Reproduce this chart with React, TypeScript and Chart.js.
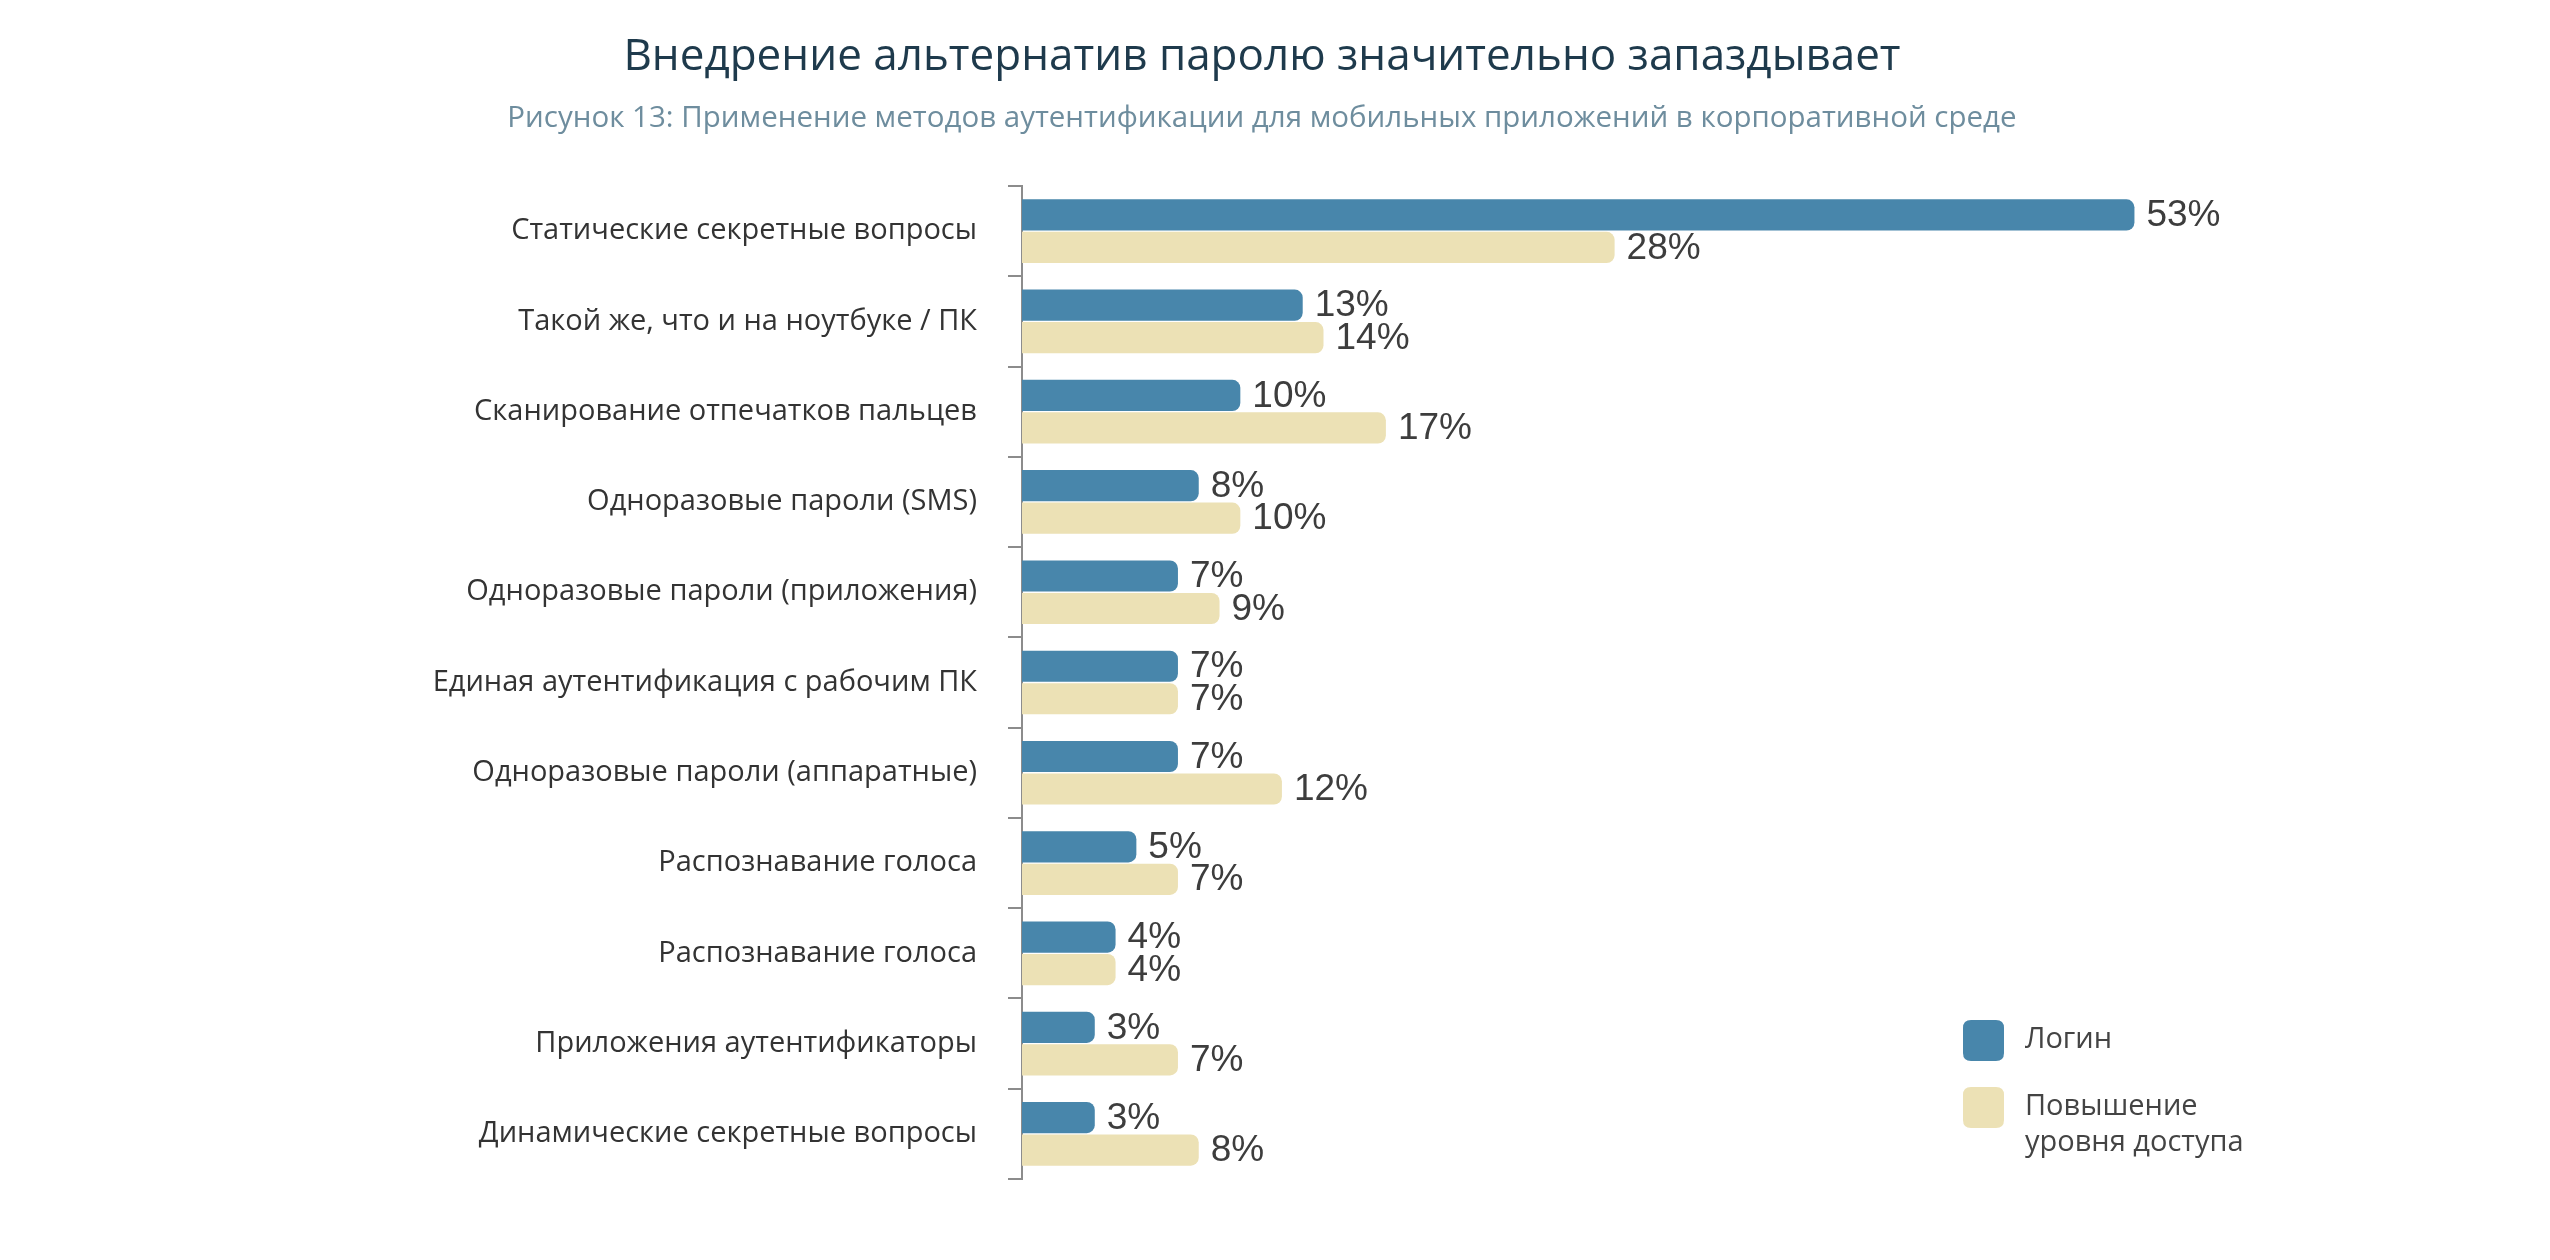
import React, { useEffect, useRef } from "react";
import { Chart, registerables } from "chart.js";

Chart.register(...registerables);

const TITLE = "Внедрение альтернатив паролю значительно запаздывает";
const SUBTITLE = "Рисунок 13: Применение методов аутентификации для мобильных приложений в корпоративной среде";

const categories = [
  "Статические секретные вопросы",
  "Такой же, что и на ноутбуке / ПК",
  "Сканирование отпечатков пальцев",
  "Одноразовые пароли (SMS)",
  "Одноразовые пароли (приложения)",
  "Единая аутентификация с рабочим ПК",
  "Одноразовые пароли (аппаратные)",
  "Распознавание голоса",
  "Распознавание голоса",
  "Приложения аутентификаторы",
  "Динамические секретные вопросы",
];

const loginValues = [53, 13, 10, 8, 7, 7, 7, 5, 4, 3, 3];
const elevationValues = [28, 14, 17, 10, 9, 7, 12, 7, 4, 7, 8];

const seriesNames = ["Логин", "Повышение уровня доступа"];
const legendLines = [["Логин"], ["Повышение", "уровня доступа"]];
const colors = ["#4886ab", "#ece1b5"];

function roundRect(ctx: CanvasRenderingContext2D, x: number, y: number, w: number, h: number, r: number) {
  ctx.beginPath();
  ctx.moveTo(x + r, y);
  ctx.lineTo(x + w - r, y);
  ctx.quadraticCurveTo(x + w, y, x + w, y + r);
  ctx.lineTo(x + w, y + h - r);
  ctx.quadraticCurveTo(x + w, y + h, x + w - r, y + h);
  ctx.lineTo(x + r, y + h);
  ctx.quadraticCurveTo(x, y + h, x, y + h - r);
  ctx.lineTo(x, y + r);
  ctx.quadraticCurveTo(x, y, x + r, y);
  ctx.closePath();
}

const overlayPlugin = {
  id: "overlay",
  afterDatasetsDraw(chart: any) {
    const ctx: CanvasRenderingContext2D = chart.ctx;
    ctx.save();
    ctx.font = "37px 'Liberation Sans', Arial, sans-serif";
    ctx.fillStyle = "#3d3d3d";
    ctx.textAlign = "left";
    ctx.textBaseline = "middle";
    chart.data.datasets.forEach((ds: any, i: number) => {
      const meta = chart.getDatasetMeta(i);
      meta.data.forEach((bar: any, j: number) => {
        ctx.fillText(ds.data[j] + "%", bar.x + 12, bar.y + 1);
      });
    });
    ctx.restore();
  },
  afterDraw(chart: any) {
    const ctx: CanvasRenderingContext2D = chart.ctx;
    ctx.save();
    ctx.textAlign = "center";
    ctx.textBaseline = "middle";
    ctx.fillStyle = "#1e3a4c";
    ctx.font = "44px 'Open Sans', sans-serif";
    ctx.fillText(TITLE, 1262, 57);
    ctx.fillStyle = "#6e8d9e";
    ctx.font = "29.5px 'Open Sans', sans-serif";
    ctx.fillText(SUBTITLE, 1262, 119);

    // legend
    const sx = 1963;
    const tops = [1020, 1087];
    ctx.textAlign = "left";
    legendLines.forEach((lines, i) => {
      ctx.fillStyle = colors[i];
      roundRect(ctx, sx, tops[i], 41, 41, 8);
      ctx.fill();
      ctx.fillStyle = "#444444";
      ctx.font = "29px 'Open Sans', sans-serif";
      lines.forEach((ln, k) => {
        ctx.fillText(ln, 2025, tops[i] + 20 + k * 36);
      });
    });
    ctx.restore();
  },
};

export default function App() {
  const ref = useRef<HTMLCanvasElement | null>(null);
  useEffect(() => {
    if (!ref.current) return;
    const common = {
      base: -0.5,
      borderRadius: 8,
      borderSkipped: "start",
      categoryPercentage: 0.72,
      barPercentage: 0.96,
    };
    const chart = new Chart(ref.current, {
      type: "bar",
      data: {
        labels: categories,
        datasets: [
          { label: seriesNames[0], data: loginValues, backgroundColor: colors[0], ...common },
          { label: seriesNames[1], data: elevationValues, backgroundColor: colors[1], ...common },
        ],
      },
      options: {
        indexAxis: "y",
        animation: false,
        responsive: true,
        maintainAspectRatio: false,
        layout: { padding: { top: 186, bottom: 81, left: 0, right: 270 } },
        plugins: {
          legend: { display: false },
          tooltip: { enabled: false },
          title: { display: false },
        },
        scales: {
          x: { display: false, min: -0.5, max: 60 },
          y: {
            type: "category",
            offset: true,
            grid: {
              offset: true,
              drawOnChartArea: false,
              drawTicks: true,
              tickLength: 14,
              color: "#8c8c8c",
              lineWidth: 2,
            },
            border: { display: true, color: "#8c8c8c", width: 2 },
            ticks: {
              autoSkip: false,
              padding: 31,
              color: "#333333",
              font: { family: "'Open Sans', sans-serif", size: 29 },
            },
            afterFit: (s: any) => {
              s.width = 1022;
            },
          },
        },
      },
      plugins: [overlayPlugin],
    } as any);
    return () => chart.destroy();
  }, []);
  return (
    <div style={{ position: "fixed", left: 0, top: 0, width: 2550, height: 1260, background: "#ffffff" }}>
      <canvas ref={ref} />
    </div>
  );
}
